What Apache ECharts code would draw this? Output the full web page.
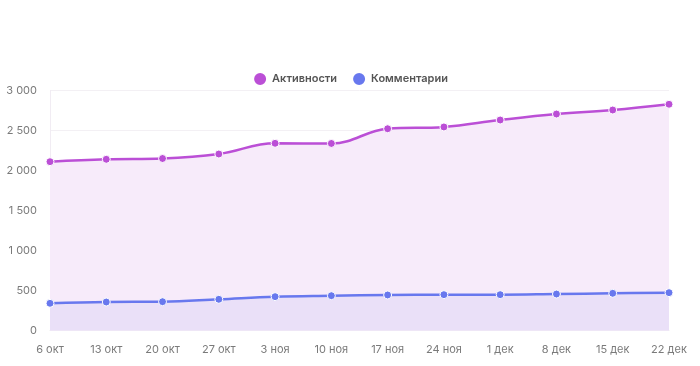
<!DOCTYPE html>
<html>
<head>
<meta charset="utf-8">
<script src="https://cdn.jsdelivr.net/npm/echarts@6/dist/echarts.min.js"></script>
<style>
html,body{margin:0;padding:0;background:#fff;}
#chart{width:700px;height:366px;}
</style>
</head>
<body>
<div id="chart"></div>
<script>
const categories = ['6 окт','13 окт','20 окт','27 окт','3 ноя','10 ноя','17 ноя','24 ноя','1 дек','8 дек','15 дек','22 дек'];
const activities = [2110, 2140, 2150, 2206, 2340, 2338, 2522, 2544, 2631, 2706, 2756, 2828];
const comments = [340, 356, 360, 390, 423, 435, 444, 448, 448, 456, 465, 473];
const yTicks = { min: 0, max: 3000, interval: 500 };

const chart = echarts.init(document.getElementById('chart'), null, { renderer: 'canvas' });
const fmt = v => String(v).replace(/\B(?=(\d{3})+(?!\d))/g, ' ');
chart.setOption({
  animation: false,
  textStyle: { fontFamily: 'Inter' },
  legend: {
    top: 66,
    left: 'center',
    itemWidth: 14,
    itemHeight: 14,
    itemGap: 14,
    icon: 'circle',
    textStyle: { fontFamily: 'Inter', fontWeight: 600, fontSize: 11, color: '#555' },
    data: ['Активности', 'Комментарии']
  },
  grid: { left: 50, right: 31, top: 90.5, bottom: 35.5, containLabel: false },
  xAxis: {
    type: 'category',
    boundaryGap: false,
    data: categories,
    axisLine: { show: true, lineStyle: { color: '#eee' } },
    axisTick: { show: false },
    axisLabel: { color: '#7a7a7a', fontSize: 11, margin: 14, fontFamily: 'Inter' },
    splitLine: { show: false }
  },
  yAxis: {
    type: 'value',
    min: yTicks.min, max: yTicks.max, interval: yTicks.interval,
    axisLine: { show: true, lineStyle: { color: '#f1ecf3' } },
    axisTick: { show: false },
    axisLabel: { color: '#7a7a7a', fontSize: 11, margin: 13, formatter: fmt, fontFamily: 'Inter' },
    splitLine: { lineStyle: { color: '#f3f0f4' } }
  },
  series: [
    {
      name: 'Активности',
      type: 'line',
      smooth: 0.4,
      data: activities,
      symbol: 'circle',
      symbolSize: 8,
      color: '#bb4fd6',
      lineStyle: { width: 2.5, color: '#bb4fd6' },
      itemStyle: { color: '#bb4fd6', borderColor: '#fff', borderWidth: 1 },
      areaStyle: { color: '#f7ebfa', opacity: 1 },
      z: 2
    },
    {
      name: 'Комментарии',
      type: 'line',
      smooth: 0.4,
      data: comments,
      symbol: 'circle',
      symbolSize: 8,
      color: '#6878ee',
      lineStyle: { width: 2.5, color: '#6878ee' },
      itemStyle: { color: '#6878ee', borderColor: '#fff', borderWidth: 1 },
      areaStyle: { color: '#eae0f8', opacity: 1 },
      z: 3
    }
  ]
});
</script>
</body>
</html>
